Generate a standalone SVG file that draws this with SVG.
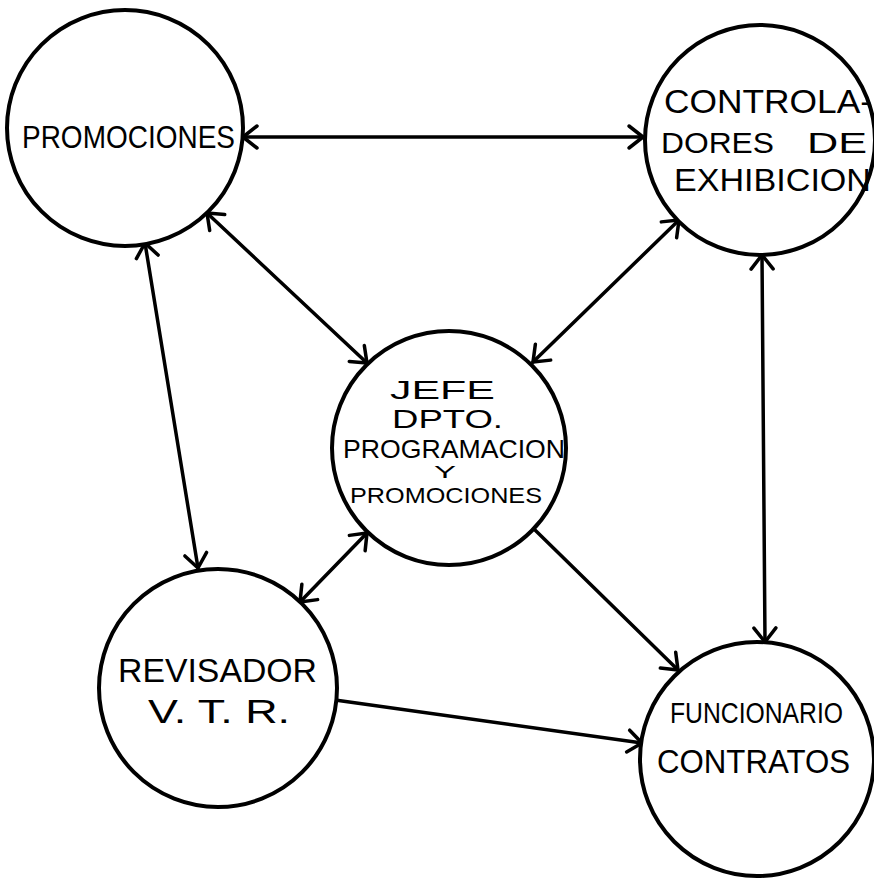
<svg xmlns="http://www.w3.org/2000/svg" width="874" height="879" viewBox="0 0 874 879">
  <style>
    .node circle { fill: #fff; stroke: #000; stroke-width: 4; }
    .node text { font-family: "Liberation Sans", Arial, sans-serif; fill: #000; }
    .edges line { stroke: #000; stroke-width: 3.5; stroke-linecap: round; }
  </style>
  <defs>
    <!-- open V arrowhead, reused at both ends of two-way links -->
    <marker id="v" viewBox="-20 -14 26 28" refX="0" refY="0" markerWidth="26" markerHeight="28" markerUnits="userSpaceOnUse" orient="auto-start-reverse">
      <path d="M-14,-11 L0,0 L-14,11" fill="none" stroke="#000" stroke-width="3.5" stroke-linecap="round" stroke-linejoin="round"/>
    </marker>
  </defs>
  <rect width="874" height="879" fill="#fff"/>

  <g class="edges">
    <line x1="243" y1="137" x2="643" y2="137" marker-start="url(#v)" marker-end="url(#v)"/>
    <line x1="207" y1="213" x2="367" y2="363" marker-start="url(#v)" marker-end="url(#v)"/>
    <line x1="145" y1="243" x2="198" y2="568" marker-start="url(#v)" marker-end="url(#v)"/>
    <line x1="679" y1="220" x2="533" y2="362" marker-start="url(#v)" marker-end="url(#v)"/>
    <line x1="762" y1="255" x2="765" y2="642" marker-start="url(#v)" marker-end="url(#v)"/>
    <line x1="367" y1="533" x2="300" y2="602" marker-start="url(#v)" marker-end="url(#v)"/>
    <line x1="535" y1="530" x2="678" y2="670" marker-end="url(#v)"/>
    <line x1="335" y1="700" x2="642" y2="743" marker-end="url(#v)"/>
  </g>

  <g id="promociones" class="node">
    <circle cx="125" cy="128" r="118"/>
    <text x="22" y="148" font-size="32" textLength="213" lengthAdjust="spacingAndGlyphs">PROMOCIONES</text>
  </g>

  <g id="controladores" class="node">
    <circle cx="760" cy="140" r="115"/>
    <text x="664" y="113" font-size="33" textLength="208" lengthAdjust="spacingAndGlyphs">CONTROLA-</text>
    <text x="661" y="153" font-size="29" textLength="113" lengthAdjust="spacingAndGlyphs">DORES</text>
    <text x="807" y="153" font-size="29" textLength="60" lengthAdjust="spacingAndGlyphs">DE</text>
    <text x="674" y="191" font-size="31" textLength="197" lengthAdjust="spacingAndGlyphs">EXHIBICION</text>
  </g>

  <g id="jefe" class="node">
    <circle cx="449" cy="448" r="117"/>
    <text x="390" y="399" font-size="25" textLength="105" lengthAdjust="spacingAndGlyphs">JEFE</text>
    <text x="392" y="428" font-size="25" textLength="111" lengthAdjust="spacingAndGlyphs">DPTO.</text>
    <text x="343" y="458" font-size="26" textLength="222" lengthAdjust="spacingAndGlyphs">PROGRAMACION</text>
    <text x="434" y="478" font-size="16" textLength="22" lengthAdjust="spacingAndGlyphs">Y</text>
    <text x="350" y="503" font-size="22" textLength="192" lengthAdjust="spacingAndGlyphs">PROMOCIONES</text>
  </g>

  <g id="revisador" class="node">
    <circle cx="218" cy="688" r="119"/>
    <text x="118" y="682" font-size="33" textLength="199" lengthAdjust="spacingAndGlyphs">REVISADOR</text>
    <text x="148" y="723" font-size="34" textLength="142" lengthAdjust="spacingAndGlyphs">V. T. R.</text>
  </g>

  <g id="funcionario" class="node">
    <circle cx="757" cy="759" r="117"/>
    <text x="670" y="723" font-size="29" textLength="173" lengthAdjust="spacingAndGlyphs">FUNCIONARIO</text>
    <text x="657" y="773" font-size="34" textLength="193" lengthAdjust="spacingAndGlyphs">CONTRATOS</text>
  </g>
</svg>
